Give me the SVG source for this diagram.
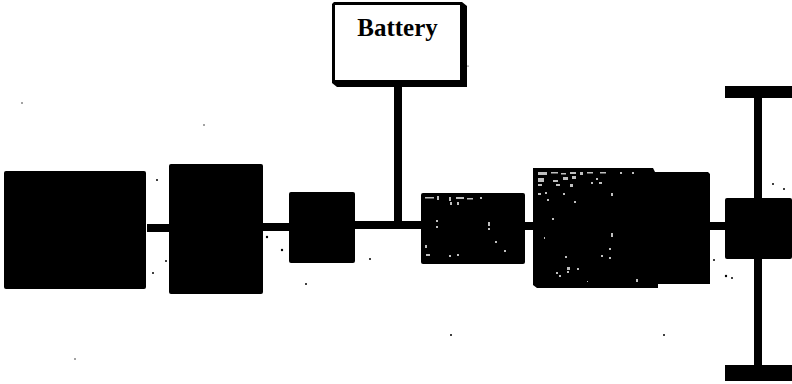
<svg xmlns="http://www.w3.org/2000/svg" width="792" height="384" viewBox="0 0 792 384">
<style>
.b{fill:#000}
.c{fill:none;stroke:#000;stroke-width:8}
.s{fill:#000}
.g{fill:#fff;opacity:.75}
text{font-family:"Liberation Serif","Times New Roman",serif;font-weight:bold;font-size:25px;fill:#000}
</style>
<rect width="792" height="384" fill="#fff"/>
<g id="connectors">
<path class="c" d="M147 228H169"/>
<path class="c" d="M263 227H289"/>
<path class="c" d="M355 225H421"/>
<path class="c" d="M398 84V225"/>
<path class="c" d="M525 226H533"/>
<path class="c" d="M710 226H725"/>
<path class="c" d="M758 98V365"/>
</g>
<g id="battery">
<path class="b" d="M334 2H462L467 6V87H337L332 83V4Z"/>
<rect x="335" y="5" width="125" height="75" fill="#fff"/>
<text x="397.500" y="36" text-anchor="middle">Battery</text>
</g>
<g id="block-1"><rect class="b" x="4" y="171" width="142" height="118" rx="2"/></g>
<g id="block-2"><rect class="b" x="169" y="164" width="94" height="130" rx="2"/></g>
<g id="block-3"><rect class="b" x="289" y="192" width="66" height="71" rx="2"/></g>
<g id="block-4">
<rect class="b" x="421" y="193" width="104" height="71" rx="2"/>
<path class="g" d="M425 197h9v1.500h-9zM437 196h2v4h-2zM449 197h2v4h-2zM456 197h8v2h-8zM467 198h6v1.500h-6zM480 197h2v2h-2zM450 202h2v3h-2zM457 202h2v3h-2zM436 220h2v2h-2zM436 226h2v2h-2zM488 222h2v4h-2zM488 228h2v2h-2zM425 245h2v3h-2zM426 254h4v2h-4zM449 255h2v2h-2zM457 254h2v2h-2zM495 241h2v2h-2zM504 250h2v2h-2z"/>
</g>
<g id="block-5">
<path class="b" d="M533 168H653L655 172H708L710 174V284H658V288H537L533 285Z"/>
<path class="g" d="M538 172h9v3h-9zM551 172h7v1.500h-7zM561 173h5v1.500h-5zM570 172h6v2h-6zM580 172h3v3h-3zM587 172h6v1.500h-6zM600 172h6v1.500h-6zM620 172h2v2h-2zM632 172h2v2h-2zM538 178h6v4h-6zM553 180h5v2h-5zM563 177h5v3h-5zM572 176h4v3h-4zM596 178h2v2h-2zM538 184h4v2h-4zM556 184h4v2h-4zM570 184h3v3h-3zM591 182h2v2h-2zM599 182h3v2h-3zM538 193h3v2h-3zM545 192h2v2h-2zM563 193h2v2h-2zM547 199h2v2h-2zM574 201h2v2h-2zM552 218h2v2h-2zM611 193h2v3h-2zM611 233h2v4h-2zM609 248h2v2h-2zM601 255h2v2h-2zM609 257h2v2h-2zM565 256h2v2h-2zM544 237h1v2h-1zM567 267h3v3h-3zM577 268h2v2h-2zM556 272h2v2h-2zM559 275h2v2h-2zM567 271h2v2h-2zM587 281h1v1h-1zM636 279h2v3h-2z"/>
</g>
<g id="hub"><rect class="b" x="725" y="198" width="67" height="61" rx="2"/></g>
<g id="wheel-top"><rect class="b" x="725" y="86" width="67" height="12"/></g>
<g id="wheel-bottom"><rect class="b" x="725" y="365" width="67" height="16"/></g>
<g id="specks">
<circle class="s" cx="157" cy="180" r="1"/><circle class="s" cx="166" cy="261" r="1"/><circle class="s" cx="153" cy="273" r="1"/><circle class="s" cx="267" cy="237" r="1.200"/><circle class="s" cx="282" cy="250" r="1.200"/><circle class="s" cx="306" cy="284" r="1"/><circle class="s" cx="370" cy="259" r="1"/><circle class="s" cx="451" cy="335" r="1"/><circle class="s" cx="664" cy="335" r="1"/><circle class="s" cx="714" cy="260" r="1"/><circle class="s" cx="726" cy="276" r="1.200"/><circle class="s" cx="732" cy="278" r="1"/><circle class="s" cx="773" cy="184" r="1"/><circle class="s" cx="784" cy="189" r="1"/><circle class="s" cx="204" cy="125" r=".7"/><circle class="s" cx="22" cy="103" r=".7"/><circle class="s" cx="75" cy="359" r=".7"/><circle class="s" cx="468" cy="66" r=".6"/>
</g>
</svg>
